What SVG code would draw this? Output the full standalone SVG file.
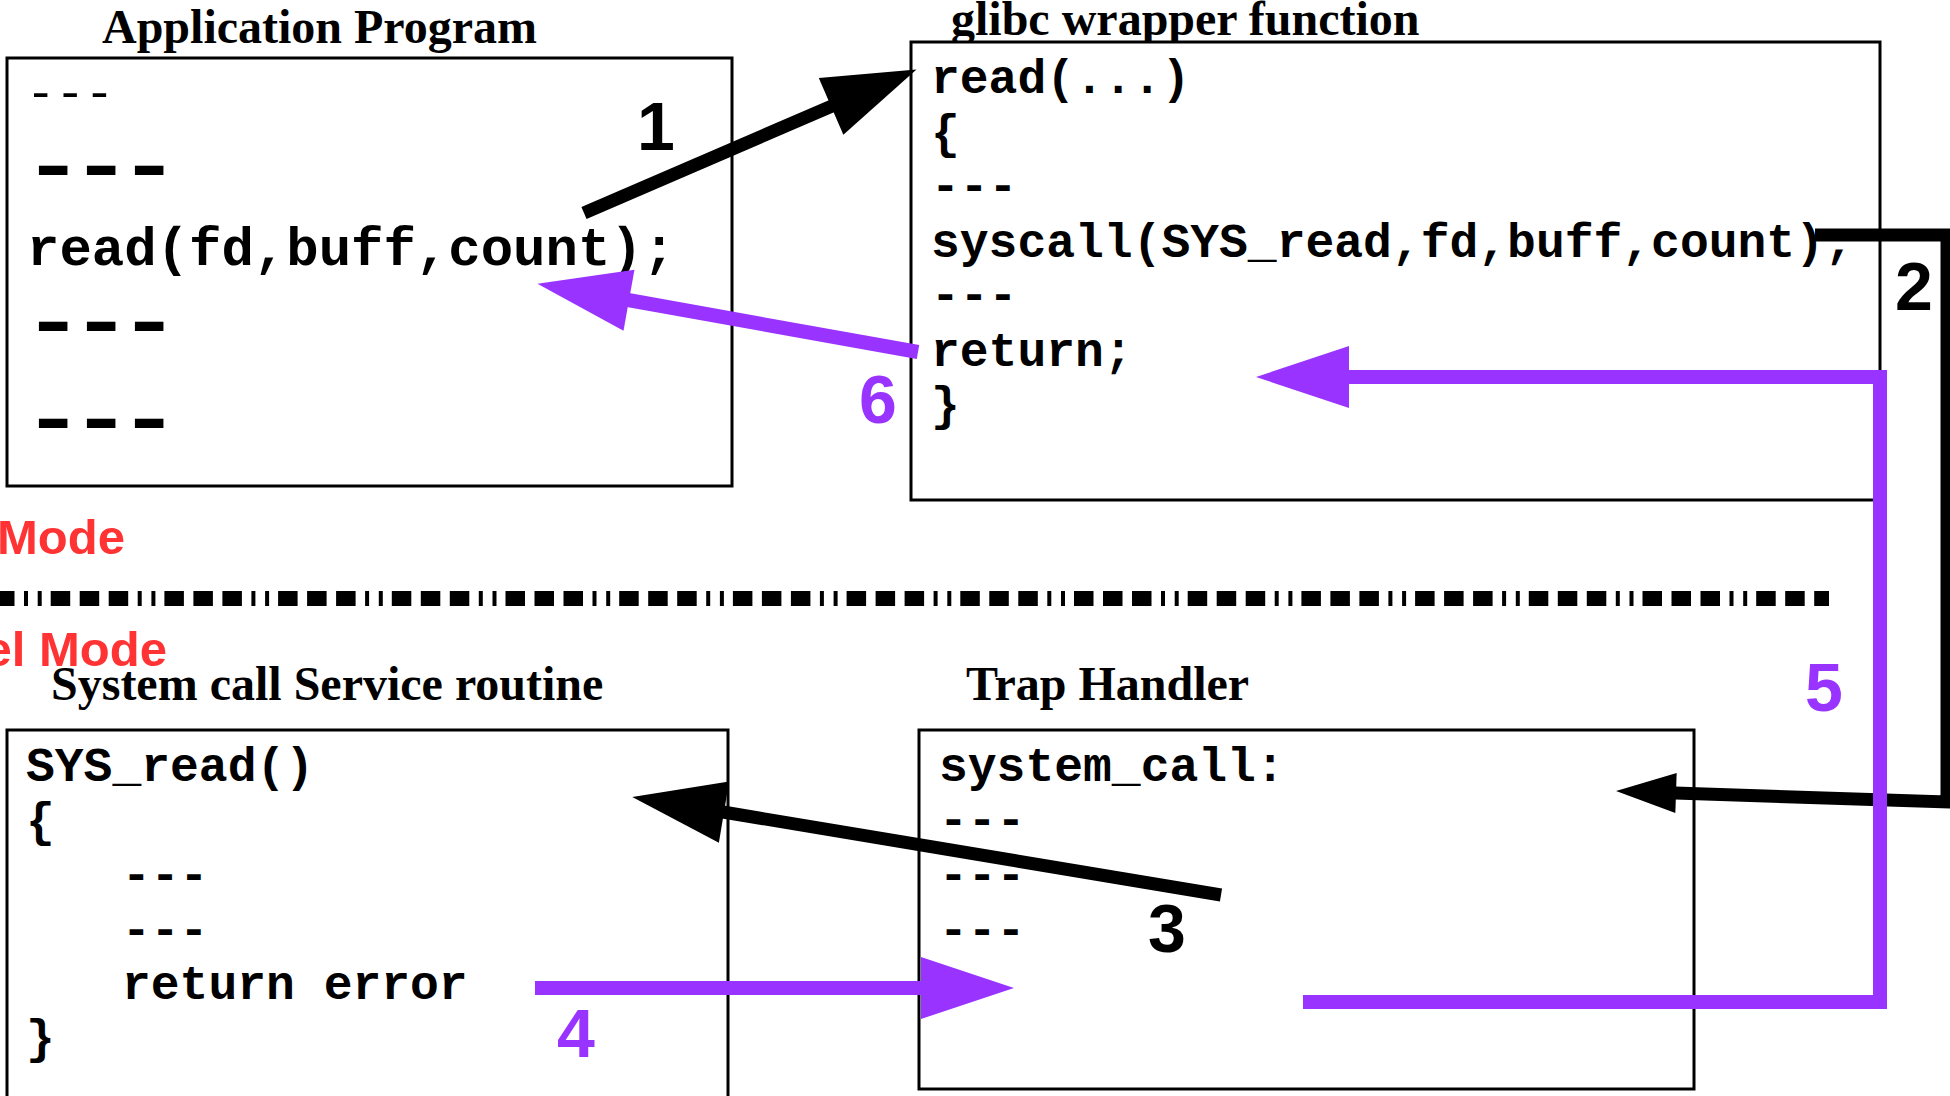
<svg xmlns="http://www.w3.org/2000/svg" width="1950" height="1096" viewBox="0 0 1950 1096">
<style>
.box{fill:#fff;stroke:#000;stroke-width:3}
.title{font-family:"Liberation Serif","Times New Roman",serif;font-weight:bold;font-size:48px;fill:#000}
.code{font-family:"Liberation Mono","Courier New",monospace;font-weight:bold;font-size:48px;fill:#000}
.big{font-size:54px}
.thin{font-weight:normal;font-size:49px}
.thick{font-size:78px;letter-spacing:-9.6px}
.mode{font-family:"Liberation Sans",Arial,sans-serif;font-weight:bold;font-size:49px;fill:#FF3333}
.num{font-family:"Liberation Sans",Arial,sans-serif;font-weight:bold;font-size:68px;text-anchor:middle}
.blk{fill:#000}
.pur{fill:#9933FF}
.lb{fill:none;stroke:#000;stroke-width:13}
.lp{fill:none;stroke:#9933FF;stroke-width:14}
</style>
<defs>
<marker id="ahB" markerUnits="userSpaceOnUse" markerWidth="93" markerHeight="62" refX="1" refY="31" orient="auto" overflow="visible"><path d="M0,0 L93,31 L0,62 z" fill="#000"/></marker>
<marker id="ahS" markerUnits="userSpaceOnUse" markerWidth="60" markerHeight="40" refX="1" refY="20" orient="auto" overflow="visible"><path d="M0,0 L60,20 L0,40 z" fill="#000"/></marker>
<marker id="ahP" markerUnits="userSpaceOnUse" markerWidth="93" markerHeight="62" refX="1" refY="31" orient="auto" overflow="visible"><path d="M0,0 L93,31 L0,62 z" fill="#9933FF"/></marker>
</defs>
<rect width="1950" height="1096" fill="#fff"/>

<g id="modes">
<text class="mode" x="-3" y="554">Mode</text>
<line x1="0" y1="598.5" x2="1829" y2="598.5" stroke="#000" stroke-width="15" stroke-dasharray="19.5 9.5 19.5 9.5 19.5 9.5 4 9.7 4 9" stroke-dashoffset="63"/>
<text class="mode" x="-15.5" y="666">el Mode</text>
</g>

<g id="app">
<text class="title" x="102" y="43">Application Program</text>
<rect class="box" x="7" y="58" width="725" height="428"/>
<text class="code thin" x="26" y="108">---</text>
<text class="code thick" transform="translate(23,191) scale(1.29,1)">---</text>
<text class="code big" x="27" y="265">read(fd,buff,count);</text>
<text class="code thick" transform="translate(23,347) scale(1.29,1)">---</text>
<text class="code thick" transform="translate(23,444) scale(1.29,1)">---</text>
</g>

<g id="glibc">
<text class="title" x="951" y="35">glibc wrapper function</text>
<rect class="box" x="911" y="42" width="969" height="458"/>
<text class="code" x="931" y="93">read(...)</text>
<text class="code" x="931" y="148">{</text>
<text class="code" x="931" y="201">---</text>
<text class="code" x="931" y="257">syscall(SYS_read,fd,buff,count);</text>
<text class="code" x="931" y="310">---</text>
<text class="code" x="931" y="366">return;</text>
<text class="code" x="931" y="420">}</text>
</g>

<g id="service">
<text class="title" x="51" y="700">System call Service routine</text>
<rect class="box" x="7" y="730" width="721" height="420"/>
<text class="code" x="26" y="781">SYS_read()</text>
<text class="code" x="26" y="836">{</text>
<text class="code" x="122" y="890">---</text>
<text class="code" x="122" y="945">---</text>
<text class="code" x="122" y="999">return error</text>
<text class="code" x="26" y="1053">}</text>
</g>

<g id="trap">
<text class="title" x="966" y="700">Trap Handler</text>
<rect class="box" x="919" y="730" width="775" height="359"/>
<text class="code" x="939" y="781">system_call:</text>
<text class="code" x="939" y="835">---</text>
<text class="code" x="939" y="890">---</text>
<text class="code" x="939" y="945">---</text>
</g>

<g id="connectors">
<line class="lb" x1="584" y1="213" x2="832" y2="106" marker-end="url(#ahB)"/>
<polyline class="lb" stroke-width="14" points="1815,235 1947,235 1947,802 1675,793" marker-end="url(#ahS)"/>
<line class="lb" x1="1221" y1="895" x2="723" y2="812" marker-end="url(#ahB)"/>
<line class="lp" x1="535" y1="988" x2="922" y2="988" marker-end="url(#ahP)"/>
<polyline class="lp" points="1303,1002 1880,1002 1880,377 1348,377" marker-end="url(#ahP)"/>
<line class="lp" x1="918" y1="352" x2="628" y2="300" marker-end="url(#ahP)"/>
<text class="num blk" x="656" y="150">1</text>
<text class="num blk" x="1914" y="310">2</text>
<text class="num blk" x="1167" y="952">3</text>
<text class="num pur" x="576" y="1057">4</text>
<text class="num pur" x="1824" y="711">5</text>
<text class="num pur" x="878" y="423">6</text>
</g>
</svg>
